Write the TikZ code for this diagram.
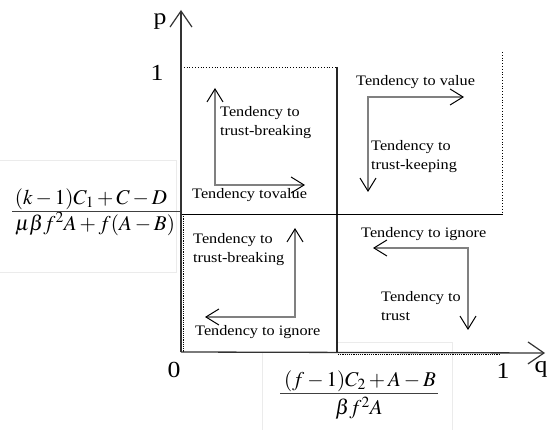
\documentclass[tikz,border=0pt]{standalone}
\usepackage{mathptmx}
\usepackage[no-math]{fontspec}
\setmainfont{Liberation Serif}[FakeStretch=1.12]
\usetikzlibrary{arrows.meta}
\begin{document}
\begin{tikzpicture}[x=1pt,y=-1pt,
  axis/.style={draw=black!80,line width=1.3pt,-{Straight Barb[length=16pt,width=22pt,line width=1.2pt]}},
  trend/.style={draw=black!50,line width=2.2pt,
    {Straight Barb[length=13pt,width=16pt,line width=1pt,black]}-{Straight Barb[length=13pt,width=16pt,line width=1pt,black]}},
  lbl/.style={font=\fontsize{14.5}{19}\selectfont,anchor=west,align=left,inner sep=0pt},
  big/.style={font=\fontsize{23}{26}\selectfont,inner sep=0pt},
  fracnode/.style={font=\fontsize{21}{26}\selectfont,inner sep=0pt},
  fracbar/.style={draw=black!75,line width=1pt},
  faint/.style={draw=black!8,line width=0.6pt}]
\useasboundingbox (0,0) rectangle (547,430);

% faint frames of the formula boxes
\draw[faint] (0,160) -- (176,160) -- (176,272) -- (0,272);
\draw[faint] (262,352) -- (262,430);
\draw[faint] (338,342) -- (452,342) -- (452,430);

% key coordinates
\coordinate (O) at (181,352);
\coordinate (ptip) at (181,10);
\coordinate (qtip) at (545,353);
\coordinate (ytop) at (181,67);
\coordinate (xmid) at (337,67);
\coordinate (xmidb) at (337,352);
\coordinate (yl) at (181,214);
\coordinate (yr) at (503,214);
\coordinate (rtop) at (502,52);
\coordinate (rbot) at (502,214);

% region lines
\draw[dotted,line width=0.8pt] (ytop) -- (xmid);
\draw[black!85,line width=1.2pt] (xmid) -- (xmidb);
\draw[line width=0.9pt] (yl) -- (yr);
\draw[dotted,line width=0.8pt] (rtop) -- (rbot);
\draw[densely dotted,line width=1.2pt] (183.5,214) -- (183.5,352);
\draw[densely dotted,line width=1.2pt] (338,354.5) -- (500,354.5);

% axes
\draw[axis] (O) -- (ptip);
\draw[axis] (O) -- (qtip);

% tendency arrows
\coordinate (a1) at (215,88);  \coordinate (c1) at (215,185); \coordinate (b1) at (305,185);
\coordinate (a2) at (464,97);  \coordinate (c2) at (368,97);  \coordinate (b2) at (368,192);
\coordinate (a3) at (295,228); \coordinate (c3) at (295,317); \coordinate (b3) at (205,317);
\coordinate (a4) at (373,248); \coordinate (c4) at (468,248); \coordinate (b4) at (468,330);
\draw[trend] (a1) -- (c1) -- (b1);
\draw[trend] (a2) -- (c2) -- (b2);
\draw[trend] (a3) -- (c3) -- (b3);
\draw[trend] (a4) -- (c4) -- (b4);

% labels
\node[lbl] (t1) at (220,123) {Tendency to\\trust-breaking};
\node[lbl] (t2) at (192,195) {Tendency tovalue};
\node[lbl] (t3) at (356,82) {Tendency to value};
\node[lbl] (t4) at (371,157) {Tendency to\\trust-keeping};
\node[lbl] (t5) at (193,250) {Tendency to\\trust-breaking};
\node[lbl] (t6) at (195,332) {Tendency to ignore};
\node[lbl] (t7) at (361,234) {Tendency to ignore};
\node[lbl] (t8) at (381,306) {Tendency to\\trust};

% axis labels
\node[big] (lp) at (160,22) {p};
\node[big] (l1p) at (157,73) {1};
\node[big] (l0) at (174,370) {0};
\node[big] (l1q) at (503,371) {1};
\node[big] (lq) at (541,369) {q};

% threshold formulas
\begin{scope}
\clip (0,150) rectangle (177,280);
\node[fracnode] (fyn) at (91,199) {$(k-1)C_1+C-D$};
\node[fracnode] (fyd) at (95,224) {$\mu\beta f^2A+f(A-B)$};
\end{scope}
\draw[fracbar] (12,212) -- (180,212);
\node[fracnode] (fxn) at (360,381) {$(f-1)C_2+A-B$};
\node[fracnode] (fxd) at (359,408) {$\beta f^2A$};
\draw[fracbar] (280,394) -- (438,394);
\end{tikzpicture}
\end{document}
